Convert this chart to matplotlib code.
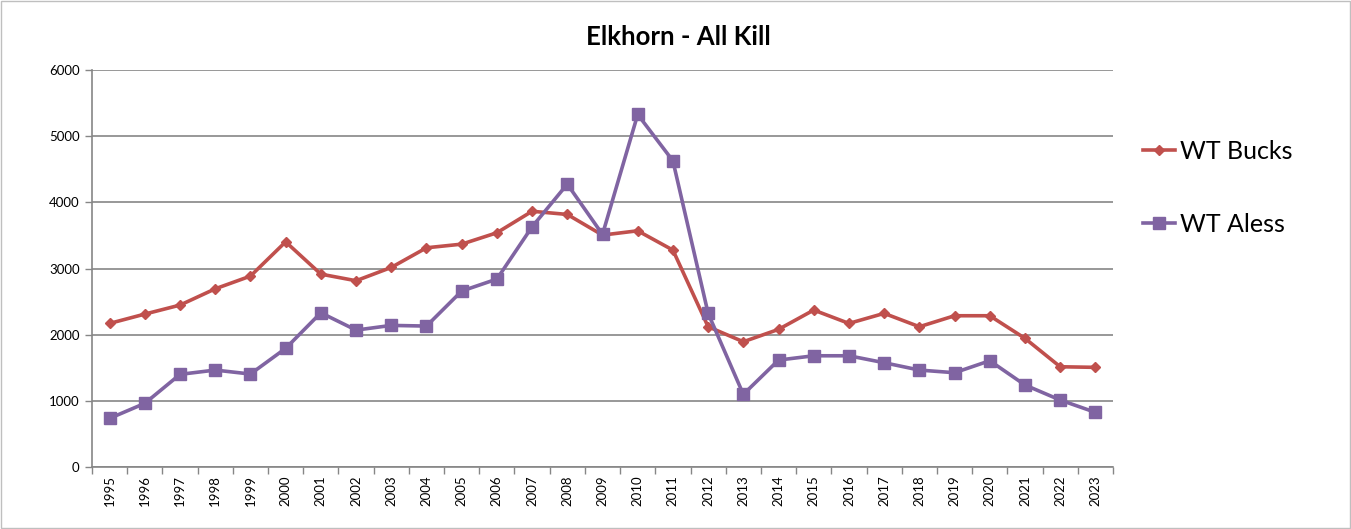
import matplotlib
matplotlib.use("Agg")
import matplotlib.pyplot as plt
from matplotlib.patches import Rectangle
from matplotlib.ticker import FixedLocator, NullFormatter

years = [str(y) for y in range(1995, 2024)]
wt_bucks = [2170, 2311, 2447, 2693, 2885, 3403, 2915, 2815, 3016, 3313, 3368, 3540, 3865,
            3817, 3505, 3570, 3278, 2120, 1893, 2080, 2372, 2170, 2322, 2120, 2286, 2286,
            1944, 1515, 1506]
wt_aless = [735, 962, 1400, 1465, 1405, 1793, 2331, 2069, 2140, 2130, 2659, 2840, 3630,
            4275, 3515, 5328, 4627, 2322, 1098, 1616, 1681, 1681, 1576, 1465, 1425, 1606,
            1239, 1012, 826]
y_ticks = [0, 1000, 2000, 3000, 4000, 5000, 6000]

plt.rcParams['font.family'] = ['Lato', 'DejaVu Sans']

W, H = 1351, 529
fig = plt.figure(figsize=(W / 100, H / 100), dpi=100)
ax = fig.add_axes([92 / W, 1 - 467 / H, (1113 - 92) / W, (467 - 70) / H])

x = list(range(len(years)))
grey = '#868686'
ax.plot(x, wt_bucks, color='#C0504D', lw=2.6, marker='D', ms=5.5, label='WT Bucks', zorder=3)
ax.plot(x, wt_aless, color='#8064A2', lw=2.6, marker='s', ms=8.5, label='WT Aless', zorder=3)

ax.set_xlim(-0.5, len(years) - 0.5)
ax.set_ylim(0, 6000)
ax.set_yticks(y_ticks)
ax.set_yticklabels([str(v) for v in y_ticks], fontsize=9.5)
ax.yaxis.grid(True, color=grey, lw=1.2)
ax.set_axisbelow(True)

ax.set_xticks(x)
ax.set_xticklabels(years, rotation=90, fontsize=9.5)
ax.tick_params(axis='x', which='major', length=0, pad=6)
ax.xaxis.set_minor_locator(FixedLocator([i - 0.5 for i in range(len(years) + 1)]))
ax.xaxis.set_minor_formatter(NullFormatter())
ax.tick_params(axis='x', which='minor', length=5, color=grey, width=1)
ax.tick_params(axis='y', length=5, color=grey, width=1, pad=4)

for s in ['top', 'right']:
    ax.spines[s].set_visible(False)
for s in ['left', 'bottom']:
    ax.spines[s].set_color(grey)
    ax.spines[s].set_linewidth(1.2)

fig.text(678 / W, 1 - 37 / H, 'Elkhorn - All Kill', ha='center', va='center',
         fontsize=18.5, fontweight='bold')

leg = fig.legend(loc='center left', bbox_to_anchor=(1120 / W, 1 - 188 / H), frameon=False,
                 fontsize=18, labelspacing=2.0, handlelength=1.3, handletextpad=0.2)

fig.patches.append(Rectangle((1 / W, 1 / H), 1 - 2 / W, 1 - 2 / H, transform=fig.transFigure,
                             fill=False, edgecolor='#BFBFBF', lw=1))

fig.savefig('out.png', dpi=100)
